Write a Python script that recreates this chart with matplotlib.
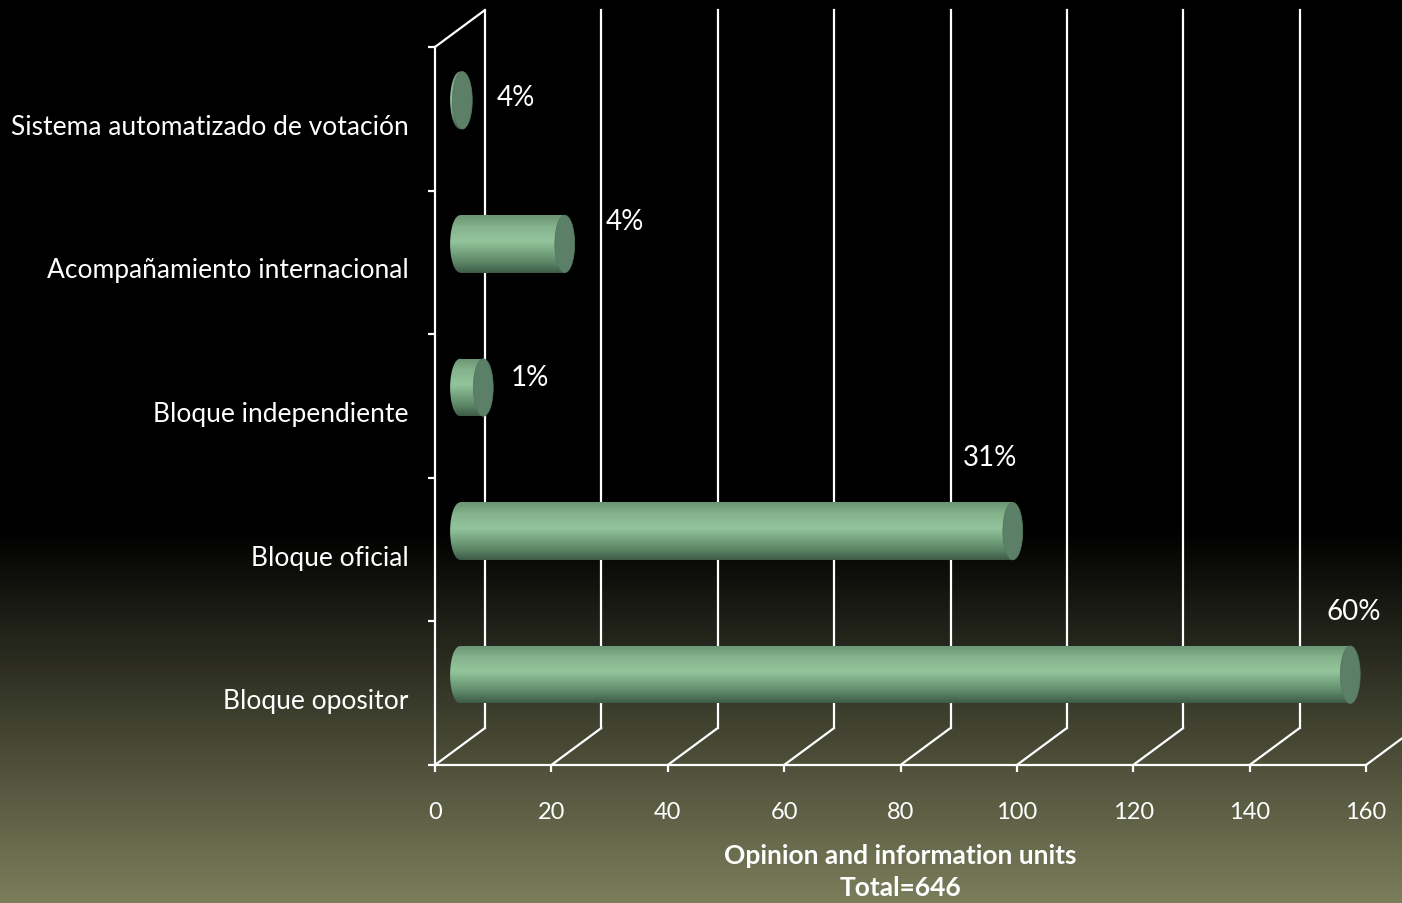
import numpy as np
import matplotlib.pyplot as plt
from matplotlib.transforms import ScaledTranslation
from matplotlib.patches import Rectangle, Ellipse, ConnectionPatch
from matplotlib.colors import LinearSegmentedColormap

# data, bottom to top
categories = ['Bloque opositor', 'Bloque oficial', 'Bloque independiente',
              'Acompañamiento internacional', 'Sistema automatizado de votación']
values = [153, 95, 4, 18, 0.4]
pct_labels = ['60%', '31%', '1%', '4%', '4%']
xticks = np.arange(0, 161, 20)

# label offsets (pixels) from the bar end
pct_offsets = [(28, 82), (2, 93), (72, 29), (85, 41), (79, 22)]

plt.rcParams['font.family'] = ['Lato', 'DejaVu Sans']

fig = plt.figure(figsize=(14.02, 9.04), dpi=100)

# background gradient: black at top, olive at bottom
bg = fig.add_axes([0, 0, 1, 1], zorder=-10)
rows = np.linspace(0, 904, 400)
grad = np.clip((rows - 530) / 374, 0, 1)
bg_cmap = LinearSegmentedColormap.from_list('bg', ['#000000', '#7b7e5b'])
bg.imshow(grad[:, None], aspect='auto', cmap=bg_cmap, extent=[0, 1, 0, 1], vmin=0, vmax=1)
bg.axis('off')

ax = fig.add_axes([435 / 1402, 138 / 904, 931 / 1402, 718 / 904])
ax.set_facecolor('none')

# depth offsets for the fake 3d
back = ax.transData + ScaledTranslation(0.50, 0.37, fig.dpi_scale_trans)
mid = ax.transData + ScaledTranslation(0.25, 0.185, fig.dpi_scale_trans)

# back wall gridlines + floor diagonals
for x in xticks:
    ax.plot([x, x], [-0.5, 4.5], transform=back, color='white', lw=1.6, clip_on=False, zorder=1)
    cp = ConnectionPatch(xyA=(x, -0.5), coordsA=ax.transData, xyB=(x, -0.5), coordsB=back,
                         color='white', lw=1.6, zorder=1)
    ax.add_artist(cp)
cp = ConnectionPatch(xyA=(0, 4.5), coordsA=ax.transData, xyB=(0, 4.5), coordsB=back,
                     color='white', lw=1.6, zorder=1)
ax.add_artist(cp)

# cylinders
cyl_cmap = LinearSegmentedColormap.from_list(
    'cyl', [(0, '#3d5c47'), (0.2, '#5f8a69'), (0.55, '#93c59b'), (0.8, '#85b38c'), (1, '#6b9574')])
shade = np.linspace(0, 1, 100)[:, None]
h = 0.40
w = 3.4
for i, v in enumerate(values):
    body = Rectangle((0, i - h / 2), v, h, transform=mid)
    im = ax.imshow(shade, cmap=cyl_cmap, origin='lower', aspect='auto',
                   extent=(0, v, i - h / 2, i + h / 2), transform=mid, zorder=3)
    im.set_clip_path(body)
    cap_l = Ellipse((0, i), w, h, transform=mid)
    im2 = ax.imshow(shade, cmap=cyl_cmap, origin='lower', aspect='auto',
                    extent=(-w / 2, w / 2, i - h / 2, i + h / 2), transform=mid, zorder=3)
    im2.set_clip_path(cap_l)
    ax.add_patch(Ellipse((v, i), w, h, transform=mid, facecolor='#5c8067',
                         edgecolor='#55775f', lw=0.6, zorder=4))
    ax.annotate(pct_labels[i], xy=(v, i), xytext=pct_offsets[i], textcoords='offset pixels',
                ha='center', va='center', color='white', fontsize=20, zorder=5)

ax.set_xlim(0, 160)
ax.set_ylim(-0.5, 4.5)

for s in ['top', 'right']:
    ax.spines[s].set_visible(False)
for s in ['left', 'bottom']:
    ax.spines[s].set_color('white')
    ax.spines[s].set_linewidth(1.6)

ax.set_xticks(xticks)
ax.set_xticklabels([str(t) for t in xticks])
ax.tick_params(axis='x', colors='white', length=5, width=1.6, pad=21, labelsize=17)
ax.set_yticks(range(len(categories)))
ax.set_yticklabels(categories)
ax.tick_params(axis='y', which='major', colors='white', length=0, pad=19, labelsize=19)
ax.set_yticks(np.arange(-0.5, 4.6, 1), minor=True)
ax.tick_params(axis='y', which='minor', colors='white', length=5, width=1.6)

ax.set_xlabel('Opinion and information units\nTotal=646', color='white', fontsize=19,
              fontweight='bold', labelpad=15, linespacing=1.4)

# nudge category labels slightly down
offset = ScaledTranslation(0, -0.05, fig.dpi_scale_trans)
for lbl in ax.get_yticklabels():
    lbl.set_transform(lbl.get_transform() + offset)

fig.savefig('out.png', dpi=100)
